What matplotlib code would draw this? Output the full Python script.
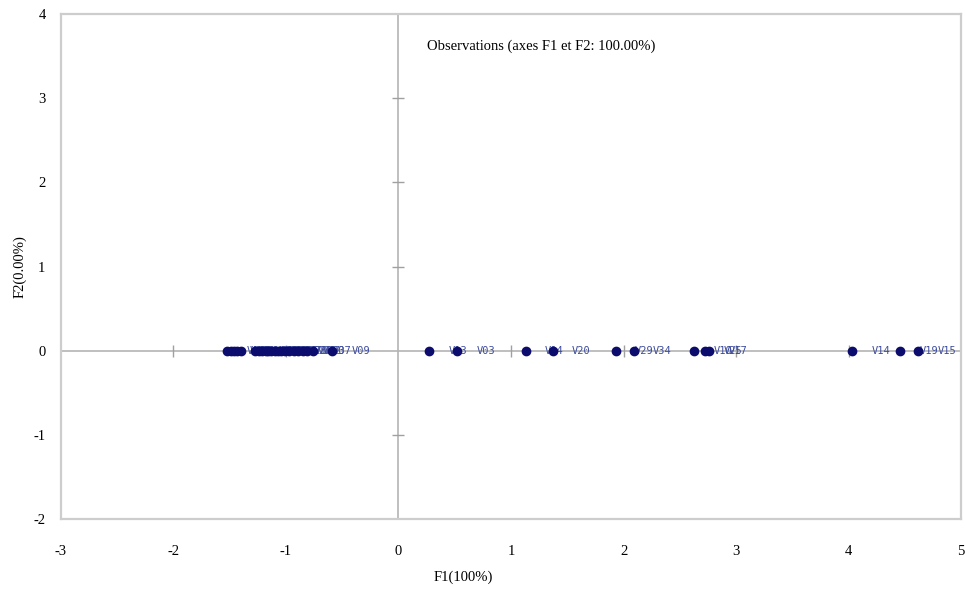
import numpy as np
import matplotlib.pyplot as plt

plt.rcParams['font.family'] = ['Liberation Serif', 'DejaVu Serif']
plt.rcParams['axes.unicode_minus'] = False

# observation coordinates on F1 (F2 is 0 for all)
obs_names = ['V01', 'V02', 'V05', 'V06', 'V08', 'V11', 'V12', 'V16', 'V18', 'V21', 'V22',
             'V23', 'V24', 'V26', 'V27', 'V28', 'V30', 'V31', 'V32', 'V33', 'V07', 'V09',
             'V13', 'V03', 'V04', 'V20', 'V29', 'V34', 'V10', 'V25', 'V17', 'V14', 'V19', 'V15']
f1 = [-1.52, -1.49, -1.46, -1.43, -1.40, -1.27, -1.24, -1.21, -1.18, -1.16, -1.13,
      -1.10, -1.07, -1.04, -1.01, -0.97, -0.93, -0.89, -0.85, -0.81, -0.76, -0.59,
      0.27, 0.52, 1.13, 1.37, 1.93, 2.09, 2.63, 2.72, 2.76, 4.03, 4.46, 4.62]
f2 = [0.0] * len(f1)

x_ticks = [-3, -2, -1, 0, 1, 2, 3, 4, 5]
y_ticks = [-2, -1, 0, 1, 2, 3, 4]

fig = plt.figure(figsize=(9.65, 5.93), dpi=100)
ax = fig.add_axes([0.063, 0.125, 0.933, 0.851])
ax.set_xlim(-3, 5)
ax.set_ylim(-2, 4)

# zero axes with small cross ticks
ax.axhline(0, color='#b4b4b4', lw=1.2, zorder=1)
ax.axvline(0, color='#b4b4b4', lw=1.2, zorder=1)
xt = [t for t in x_ticks if t not in (0, -3, 5)]
yt = [t for t in y_ticks if t not in (0, -2, 4)]
ax.plot(xt, [0] * len(xt), ls='none', marker='|', ms=9, color='#a0a0a0', zorder=1)
ax.plot([0] * len(yt), yt, ls='none', marker='_', ms=9, color='#a0a0a0', zorder=1)

ax.scatter(f1, f2, s=36, color='#0c0c6e', zorder=3)
for name, x, y in zip(obs_names, f1, f2):
    ax.annotate(name, (x, y), xytext=(14, 0), textcoords='offset points', va='center', ha='left',
                fontsize=7.5, color='#3d4c9c', family='DejaVu Sans Mono', clip_on=True, zorder=2)

ax.set_xticks(x_ticks)
ax.set_yticks(y_ticks)
ax.tick_params(axis='x', length=0, pad=19, labelsize=10.5)
ax.tick_params(axis='y', length=0, pad=11, labelsize=10.5)
for s in ax.spines.values():
    s.set_color('#cdcdcd')
    s.set_linewidth(1.6)

ax.text(0.25, 3.62, 'Observations (axes F1 et F2: 100.00%)', fontsize=10.5, ha='left', va='center')
fig.text(0.48, 0.027, 'F1(100%)', fontsize=10.5, ha='center', va='center')
fig.text(0.021, 0.55, 'F2(0.00%)', fontsize=10.5, ha='center', va='center', rotation=90)

fig.savefig('out.png', dpi=100)
